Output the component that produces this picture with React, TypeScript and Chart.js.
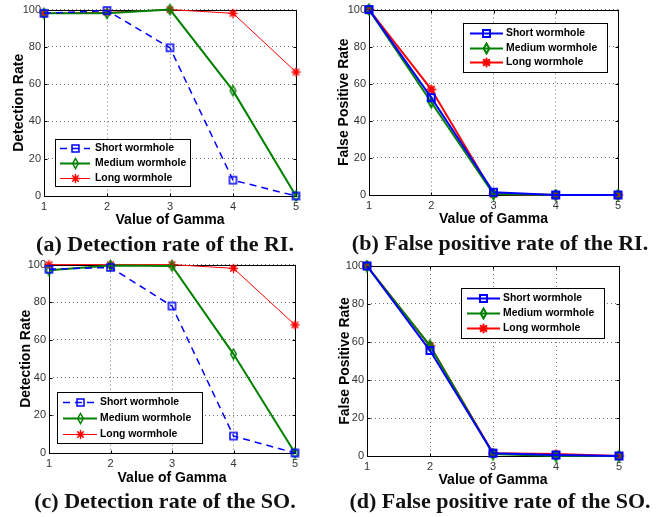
import React, { useEffect, useRef } from 'react';
import { Chart, registerables } from 'chart.js';
Chart.register(...registerables);

// ---- data ----
const gamma = [1, 2, 3, 4, 5];
const yTickValues = [0, 20, 40, 60, 80, 100];
const seriesNames = ['Short wormhole', 'Medium wormhole', 'Long wormhole'];

const riDetShort = [98, 99.5, 79.5, 8.5, 0];
const riDetMedium = [98, 98, 100, 56.5, 0];
const riDetLong = [98, 98.5, 100, 98, 66.5];

const riFpShort = [100, 52.5, 1.5, 0, 0];
const riFpMedium = [100, 50, 0.5, 0, 0];
const riFpLong = [100, 57, 0.5, 0, 0];

const soDetShort = [97.5, 98.5, 78, 9, 0];
const soDetMedium = [97, 99.5, 99.3, 52.5, 0];
const soDetLong = [100, 100, 100, 98, 68];

const soFpShort = [100, 55.5, 1.5, 0.5, 0];
const soFpMedium = [100, 58, 1, 0, 0];
const soFpLong = [100, 58, 1.5, 1, 0];

const xTitle = 'Value of Gamma';
const yTitleDet = 'Detection Rate';
const yTitleFp = 'False Positive Rate';
const captions = [
  '(a) Detection rate of the RI.',
  '(b) False positive rate of the RI.',
  '(c) Detection rate of the SO.',
  '(d) False positive rate of the SO.',
];

const BLUE = '#0000ff';
const GREEN = '#008000';
const RED = '#ff0000';

type LegendCfg = { x: number; y: number; w: number; h: number; rows: number[]; l1: number; l2: number; mk: number; tx: number };
type PanelCfg = {
  left: number; top: number; w: number; h: number;
  area: { l: number; r: number; t: number; b: number };
  yTitle: string; yTitleX: number; xTitleY: number;
  series: number[][]; det: boolean; legend: LegendCfg;
  caption: string; capLeft: number; capTop: number;
};

const panels: PanelCfg[] = [
  {
    left: 0, top: 0, w: 330, h: 232, area: { l: 44, r: 296, t: 7, b: 196 },
    yTitle: yTitleDet, yTitleX: 19, xTitleY: 220.5,
    series: [riDetShort, riDetMedium, riDetLong], det: true,
    legend: { x: 55, y: 139, w: 135, h: 47, rows: [9, 24, 39], l1: 5, l2: 35, mk: 20, tx: 40 },
    caption: captions[0], capLeft: 0, capTop: 231,
  },
  {
    left: 330, top: 0, w: 330, h: 232, area: { l: 39, r: 288, t: 7, b: 195 },
    yTitle: yTitleFp, yTitleX: 14.5, xTitleY: 219.5,
    series: [riFpShort, riFpMedium, riFpLong], det: false,
    legend: { x: 133, y: 23, w: 144, h: 49, rows: [10, 25, 39], l1: 7, l2: 40, mk: 23, tx: 43 },
    caption: captions[1], capLeft: 335, capTop: 230,
  },
  {
    left: 0, top: 255, w: 330, h: 236, area: { l: 49, r: 295, t: 7, b: 198 },
    yTitle: yTitleDet, yTitleX: 26.5, xTitleY: 223.5,
    series: [soDetShort, soDetMedium, soDetLong], det: true,
    legend: { x: 57, y: 137, w: 145, h: 51, rows: [10, 26, 42], l1: 6, l2: 40, mk: 23, tx: 43 },
    caption: captions[2], capLeft: 0, capTop: 488,
  },
  {
    left: 330, top: 255, w: 330, h: 236, area: { l: 37, r: 289, t: 11, b: 201 },
    yTitle: yTitleFp, yTitleX: 15, xTitleY: 225,
    series: [soFpShort, soFpMedium, soFpLong], det: false,
    legend: { x: 131, y: 33, w: 143, h: 50, rows: [10, 25, 40], l1: 6, l2: 39, mk: 22, tx: 42 },
    caption: captions[3], capLeft: 335, capTop: 488,
  },
];

function makeMarker(shape: string, color: string, lw: number): HTMLCanvasElement {
  const c = document.createElement('canvas');
  const ctx = c.getContext('2d')!;
  if (shape === 'square') {
    c.width = 11; c.height = 11;
    ctx.strokeStyle = color; ctx.lineWidth = lw;
    ctx.strokeRect(2, 2, 7, 7);
  } else if (shape === 'diamond') {
    c.width = 11; c.height = 13;
    ctx.strokeStyle = color; ctx.lineWidth = lw;
    ctx.beginPath();
    ctx.moveTo(5.5, 1.5); ctx.lineTo(8.3, 6.5); ctx.lineTo(5.5, 11.5); ctx.lineTo(2.7, 6.5); ctx.closePath();
    ctx.stroke();
  } else {
    c.width = 11; c.height = 11;
    ctx.strokeStyle = color; ctx.lineWidth = lw; ctx.lineCap = 'round';
    ctx.beginPath();
    ctx.moveTo(5.5, 1.5); ctx.lineTo(5.5, 9.5);
    ctx.moveTo(1.5, 5.5); ctx.lineTo(9.5, 5.5);
    ctx.moveTo(2.7, 2.7); ctx.lineTo(8.3, 8.3);
    ctx.moveTo(8.3, 2.7); ctx.lineTo(2.7, 8.3);
    ctx.stroke();
  }
  return c;
}

const framePlugin = {
  id: 'matFrame',
  beforeDatasetsDraw(chart: any) {
    const { ctx, chartArea: a, scales } = chart;
    ctx.save();
    ctx.strokeStyle = '#000';
    ctx.lineWidth = 1;
    const L = Math.round(a.left) + 0.5, R = Math.round(a.right) + 0.5;
    const T = Math.round(a.top) + 0.5, B = Math.round(a.bottom) + 0.5;
    ctx.strokeRect(L, T, R - L, B - T);
    ctx.beginPath();
    gamma.forEach((g) => {
      const px = Math.round(scales.x.getPixelForValue(g)) + 0.5;
      ctx.moveTo(px, B); ctx.lineTo(px, B - 3);
      ctx.moveTo(px, T); ctx.lineTo(px, T + 3);
    });
    yTickValues.forEach((v) => {
      const py = Math.round(scales.y.getPixelForValue(v)) + 0.5;
      ctx.moveTo(L, py); ctx.lineTo(L + 3, py);
      ctx.moveTo(R, py); ctx.lineTo(R - 3, py);
    });
    ctx.stroke();
    ctx.restore();
  },
};

const boxLegendPlugin = {
  id: 'boxLegend',
  afterDraw(chart: any, _args: any, opts: any) {
    const lg: LegendCfg = opts.cfg;
    if (!lg) return;
    const { ctx } = chart;
    ctx.save();
    ctx.fillStyle = '#fff';
    ctx.fillRect(lg.x, lg.y, lg.w, lg.h);
    ctx.strokeStyle = '#000';
    ctx.lineWidth = 1;
    ctx.strokeRect(lg.x + 0.5, lg.y + 0.5, lg.w, lg.h);
    chart.data.datasets.forEach((ds: any, i: number) => {
      const cy = lg.y + lg.rows[i] + 0.5;
      ctx.strokeStyle = ds.borderColor;
      ctx.lineWidth = ds.borderWidth;
      ctx.setLineDash(ds.borderDash || []);
      ctx.beginPath();
      ctx.moveTo(lg.x + lg.l1, cy);
      ctx.lineTo(lg.x + lg.l2, cy);
      ctx.stroke();
      ctx.setLineDash([]);
      const m: HTMLCanvasElement = ds.pointStyle;
      ctx.drawImage(m, Math.round(lg.x + lg.mk - m.width / 2), Math.round(cy - m.height / 2));
      ctx.fillStyle = '#000';
      ctx.font = 'bold 10.4px "Liberation Sans", Arial, sans-serif';
      ctx.textBaseline = 'middle';
      ctx.textAlign = 'left';
      ctx.fillText(ds.label, lg.x + lg.tx, cy);
    });
    ctx.restore();
  },
};

function Panel({ cfg }: { cfg: PanelCfg }) {
  const ref = useRef<HTMLCanvasElement>(null);
  useEffect(() => {
    const canvas = ref.current!;
    const colors = [BLUE, GREEN, RED];
    const shapes = ['square', 'diamond', 'star'];
    const widths = cfg.det ? [1.5, 2, 1] : [2, 2, 2];
    const datasets = cfg.series.map((vals, i) => ({
      label: seriesNames[i],
      data: gamma.map((g, j) => ({ x: g, y: vals[j] })),
      borderColor: colors[i],
      backgroundColor: colors[i],
      borderWidth: widths[i],
      borderDash: cfg.det && i === 0 ? [7, 5] : [],
      pointStyle: makeMarker(shapes[i], colors[i], cfg.det ? 1.5 : 2),
      pointRadius: 5,
      clip: false,
      tension: 0,
    }));
    const yTitleFontSize = 14;
    const lineH = yTitleFontSize * 1.2;
    const chart = new Chart(canvas, {
      type: 'line',
      data: { datasets: datasets as any },
      plugins: [framePlugin, boxLegendPlugin],
      options: {
        animation: false,
        responsive: false,
        devicePixelRatio: 1,
        layout: { padding: { left: 0, top: cfg.area.t, right: cfg.w - cfg.area.r, bottom: 0 } },
        plugins: {
          legend: { display: false },
          tooltip: { enabled: false },
          boxLegend: { cfg: cfg.legend },
        } as any,
        scales: {
          x: {
            type: 'linear', min: 1, max: 5,
            afterBuildTicks: (s: any) => { s.ticks = gamma.map((v) => ({ value: v })); },
            afterFit: (s: any) => { s.height = cfg.h - cfg.area.b; },
            ticks: { padding: 4, color: '#333', font: { family: '"Liberation Sans", Arial, sans-serif', size: 11 } },
            grid: { color: 'rgba(0,0,0,0.55)', lineWidth: 1, drawTicks: false },
            border: { display: false, dash: [1, 3] },
            title: {
              display: true, text: xTitle, color: '#000',
              font: { family: '"Liberation Sans", Arial, sans-serif', size: 14, weight: 'bold' },
              padding: { top: 0, bottom: cfg.h - lineH / 2 - cfg.xTitleY },
            },
          },
          y: {
            type: 'linear', min: 0, max: 100,
            afterBuildTicks: (s: any) => { s.ticks = yTickValues.map((v) => ({ value: v })); },
            afterFit: (s: any) => { s.width = cfg.area.l; },
            ticks: { padding: 3, color: '#333', font: { family: '"Liberation Sans", Arial, sans-serif', size: 11 } },
            grid: { color: 'rgba(0,0,0,0.55)', lineWidth: 1, drawTicks: false },
            border: { display: false, dash: [1, 3] },
            title: {
              display: true, text: cfg.yTitle, color: '#000',
              font: { family: '"Liberation Sans", Arial, sans-serif', size: 14, weight: 'bold' },
              padding: { top: cfg.yTitleX - lineH / 2, bottom: 0 },
            },
          },
        },
      } as any,
    });
    return () => chart.destroy();
  }, [cfg]);
  return (
    <>
      <canvas
        ref={ref}
        width={cfg.w}
        height={cfg.h}
        style={{ position: 'absolute', left: cfg.left, top: cfg.top, width: cfg.w, height: cfg.h }}
      />
      <div
        style={{
          position: 'absolute', left: cfg.capLeft, top: cfg.capTop, width: 330, height: 26,
          lineHeight: '26px', textAlign: 'center', whiteSpace: 'nowrap',
          font: 'bold 22px "Liberation Serif", "Times New Roman", serif', color: '#111',
        }}
      >
        {cfg.caption}
      </div>
    </>
  );
}

export default function App() {
  return (
    <div style={{ position: 'absolute', left: 0, top: 0, width: 660, height: 517, background: '#fff', overflow: 'hidden' }}>
      {panels.map((p, i) => (
        <Panel key={i} cfg={p} />
      ))}
    </div>
  );
}
